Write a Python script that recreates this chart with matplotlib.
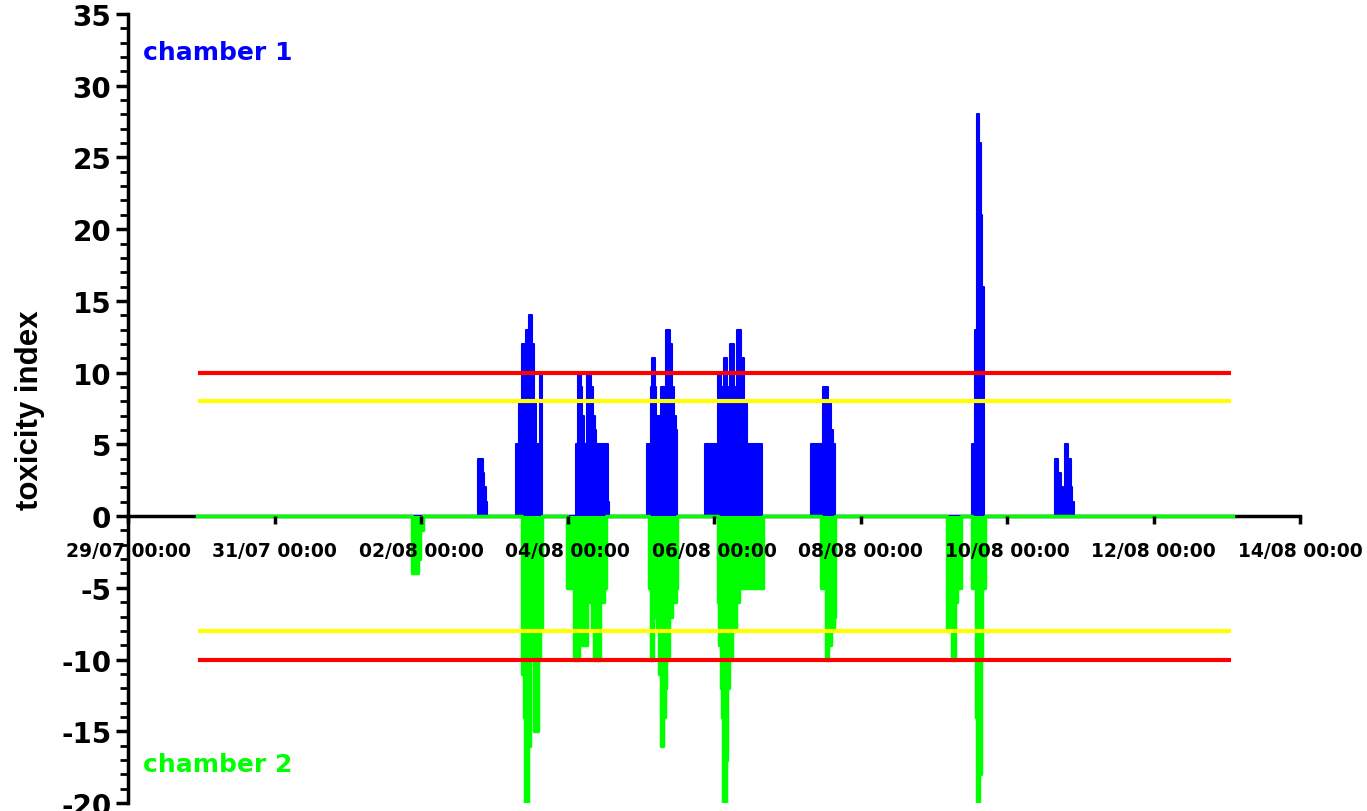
import matplotlib
matplotlib.use("Agg")
import matplotlib.pyplot as plt
import matplotlib.dates as mdates
from matplotlib.ticker import MultipleLocator
import pandas as pd

plt.rcParams['axes.unicode_minus'] = False

start = pd.Timestamp("2013-07-29 00:00")

# chamber 1: hours after 29/07 00:00, step values of the toxicity index
ch1_hours = [22.6,
             114.8, 116.3, 116.8, 117.3, 117.6,
             127.1, 128.2, 129.2, 130.0, 130.3, 131.5, 132.5, 133.1, 133.8, 134.9, 135.7,
             146.8, 147.3, 148.4, 148.9, 149.5, 150.4, 151.7, 152.4, 153.0, 153.5, 157.3, 157.7,
             170.1, 171.2, 171.8, 172.7, 173.1, 174.7, 176.4, 177.5, 178.4, 178.8, 179.5, 179.9,
             189.2, 193.4, 194.3, 195.2, 196.1, 197.2, 198.5, 199.4, 200.9, 201.8, 202.9, 207.8,
             223.9, 227.7, 229.3, 230.2, 231.1, 231.8,
             276.6, 277.4, 278.1, 278.8, 279.4, 279.9, 280.5,
             303.7, 304.7, 305.6, 306.4, 307.0, 308.1, 308.9, 309.4, 310.0,
             362.0]
ch1_values = [0,
              4, 3, 2, 1, 0,
              5, 8, 12, 9, 13, 14, 12, 8, 5, 10, 0,
              5, 10, 9, 7, 5, 10, 9, 7, 6, 5, 1, 0,
              5, 9, 11, 9, 7, 9, 13, 12, 9, 7, 6, 0,
              5, 10, 9, 11, 9, 12, 9, 13, 11, 8, 5, 0,
              5, 9, 8, 6, 5, 0,
              5, 13, 28, 26, 21, 16, 0,
              4, 3, 2, 0, 5, 4, 2, 1, 0,
              0]

# chamber 2 (plotted downwards)
ch2_hours = [22.6,
             93.2, 94.9, 95.7, 96.5,
             129.1, 129.6, 130.2, 131.1, 131.8, 132.9, 134.2, 135.1, 135.7,
             143.9, 146.0, 147.7, 148.8, 150.4, 152.1, 152.6, 154.5, 155.8, 156.6,
             170.6, 171.4, 172.0, 172.8, 173.4, 173.9, 174.7, 175.2, 175.8, 176.4, 177.2, 178.3, 179.4, 179.9,
             193.4, 193.8, 194.2, 194.5, 194.9, 195.1, 195.9, 196.1, 196.4, 197.0, 198.0, 199.3, 200.1, 208.0,
             227.2, 228.8, 229.5, 230.4, 231.3, 231.8,
             268.4, 270.1, 270.8, 271.7, 272.8,
             276.6, 277.7, 278.1, 278.8, 279.4, 279.9, 280.7,
             362.0]
ch2_values = [0,
              -4, -3, -1, 0,
              -11, -14, -20, -16, -10, -15, -10, -8, 0,
              -5, -10, -7, -9, -6, -8, -10, -6, -5, 0,
              -5, -10, -7, -6, -8, -11, -16, -14, -12, -10, -7, -6, -5, 0,
              -6, -9, -12, -14, -17, -20, -17, -14, -12, -10, -8, -6, -5, 0,
              -5, -10, -9, -8, -7, 0,
              -8, -10, -6, -5, 0,
              -5, -14, -20, -18, -10, -5, 0,
              0]

# alarm thresholds
limit_levels = [10, 8, -8, -10]
limit_colors = ['#ff0000', '#ffff00', '#ffff00', '#ff0000']
limit_span = [23.0, 361.3]

t1 = [mdates.date2num(start + pd.Timedelta(hours=h)) for h in ch1_hours]
t2 = [mdates.date2num(start + pd.Timedelta(hours=h)) for h in ch2_hours]
tl = [mdates.date2num(start + pd.Timedelta(hours=h)) for h in limit_span]

fig = plt.figure(figsize=(13.67, 8.12), dpi=100)
ax = fig.add_axes([0.09364, 0.00985, 0.85735, 0.97168])

ax.fill_between(t1, ch1_values, 0, step='post', color='#0000ff', lw=0, zorder=2)
ax.step(t1, ch1_values, where='post', color='#0000ff', lw=1.5, zorder=2)
ax.fill_between(t2, ch2_values, 0, step='post', color='#00ff00', lw=0, zorder=3)
ax.step(t2, ch2_values, where='post', color='#00ff00', lw=2.5, zorder=3)

for lev, col in zip(limit_levels, limit_colors):
    ax.plot(tl, [lev, lev], color=col, lw=3, zorder=4, solid_capstyle='butt')

ax.set_xlim(mdates.date2num(start), mdates.date2num(start + pd.Timedelta(days=16)))
ax.set_ylim(-20, 35)

for s in ['top', 'right']:
    ax.spines[s].set_visible(False)
ax.spines['bottom'].set_position(('data', 0))
ax.spines['bottom'].set_linewidth(2.5)
ax.spines['left'].set_linewidth(2.5)
ax.spines['bottom'].set_zorder(1)

ax.xaxis.set_major_locator(mdates.DayLocator(interval=2))
ax.xaxis.set_major_formatter(mdates.DateFormatter('%d/%m %H:%M'))
ax.yaxis.set_major_locator(MultipleLocator(5))
ax.yaxis.set_minor_locator(MultipleLocator(1))
ax.xaxis.set_zorder(6)

ax.tick_params(axis='x', direction='out', length=6, width=2.5, pad=12,
               labelsize=13.5)
ax.tick_params(axis='y', which='major', direction='out', length=9, width=2.5,
               pad=3, labelsize=20)
ax.tick_params(axis='y', which='minor', direction='out', length=6, width=2)
for lab in ax.get_xticklabels() + ax.get_yticklabels():
    lab.set_fontweight('bold')
    lab.set_family('DejaVu Sans')

fig.text(0.0219, 0.495, 'toxicity index', rotation=90, ha='center', va='center',
         fontsize=22.5, fontweight='bold', family='Liberation Sans')
fig.text(0.1046, 0.926, 'chamber 1', color='#0000ff', fontsize=18,
         fontweight='bold', va='baseline', family='DejaVu Sans')
fig.text(0.1046, 0.0493, 'chamber 2', color='#00ff00', fontsize=18,
         fontweight='bold', va='baseline', family='DejaVu Sans')

fig.savefig('out.png', dpi=100)
